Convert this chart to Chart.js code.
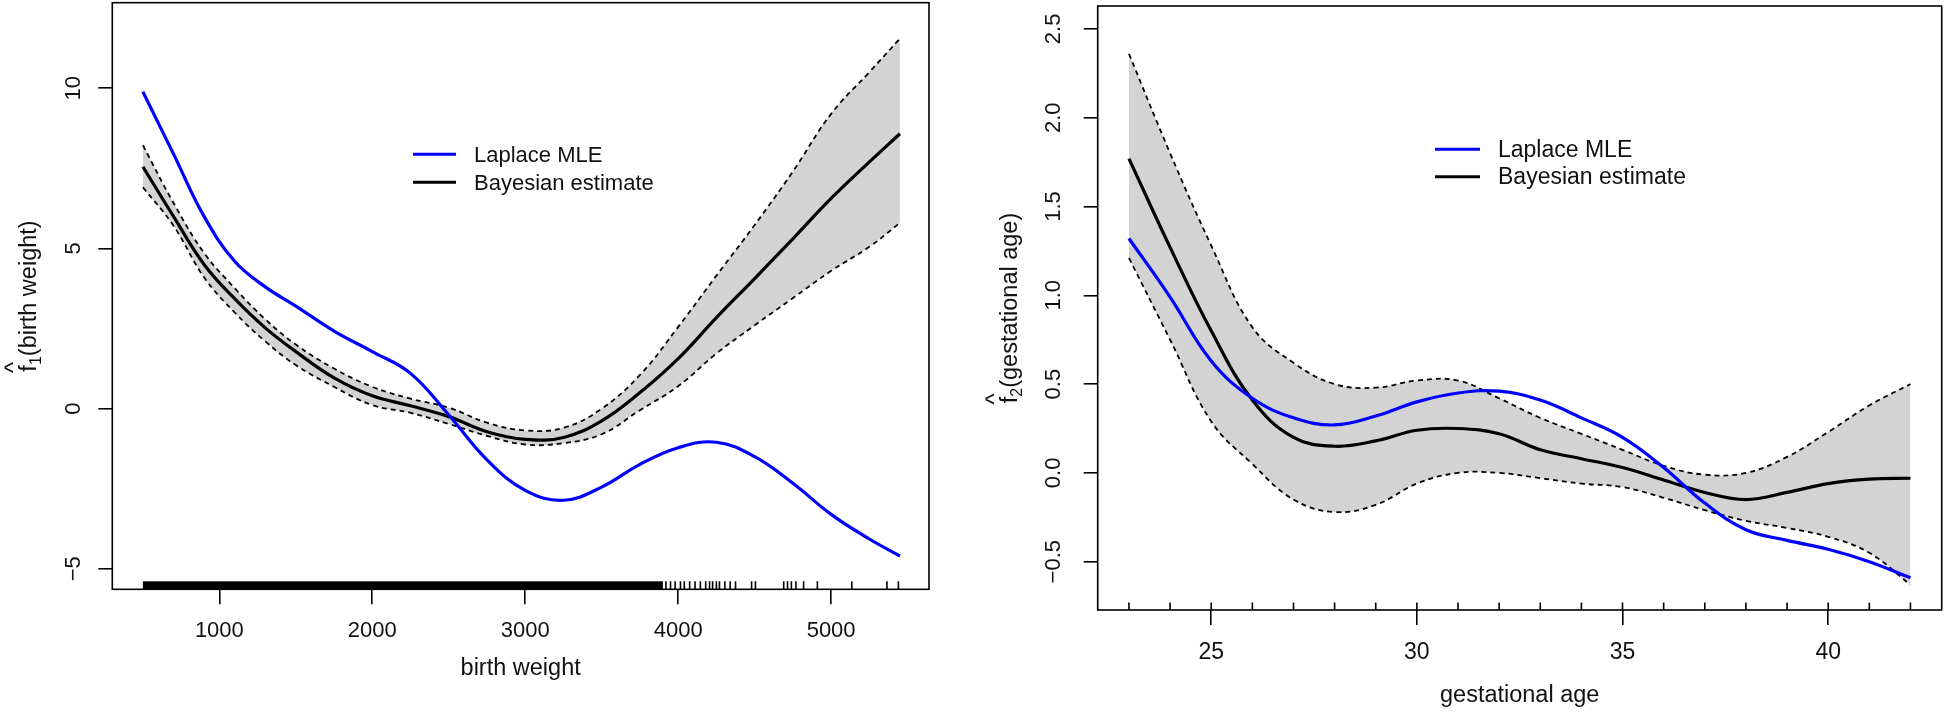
<!DOCTYPE html>
<html>
<head>
<meta charset="utf-8">
<script src="https://cdn.jsdelivr.net/npm/chart.js@4.4.1/dist/chart.umd.min.js"></script>
<style>
  html, body { margin: 0; padding: 0; background: #fff; }
  body { width: 1946px; height: 712px; position: relative; overflow: hidden; }
  canvas { position: absolute; top: 0; }
</style>
</head>
<body>
<canvas id="bw" width="960" height="712" style="left:0"></canvas>
<canvas id="ga" width="986" height="712" style="left:960px"></canvas>
<script>
// ---- left panel: birth weight ----
const bwGrid = [500, 700, 900, 1100, 1300, 1500, 1750, 2000, 2250, 2500, 2750, 3000, 3250, 3500, 3750, 4000, 4250, 4500, 4750, 5000, 5250, 5450];
const bwLaplace = [9.89, 7.95, 6.0, 4.6, 3.8, 3.2, 2.42, 1.78, 1.1, -0.2, -1.6, -2.55, -2.86, -2.45, -1.74, -1.22, -1.05, -1.5, -2.33, -3.3, -4.07, -4.6];
const bwBayes = [7.55, 6.0, 4.5, 3.43, 2.52, 1.78, 0.96, 0.40, 0.09, -0.25, -0.72, -0.96, -0.9, -0.38, 0.5, 1.56, 2.84, 4.06, 5.3, 6.56, 7.7, 8.58];
const bwUpper = [8.22, 6.42, 4.86, 3.76, 2.79, 2.0, 1.25, 0.68, 0.31, 0.03, -0.44, -0.68, -0.6, 0.0, 1.05, 2.55, 4.15, 5.73, 7.4, 9.2, 10.5, 11.55];
const bwLower = [6.91, 5.71, 4.1, 3.0, 2.1, 1.36, 0.68, 0.11, -0.13, -0.48, -0.85, -1.12, -1.08, -0.8, -0.05, 0.7, 1.72, 2.6, 3.45, 4.3, 5.05, 5.8];
const bwXTicks = [1000, 2000, 3000, 4000, 5000];
const bwYTicks = [-5, 0, 5, 10];
// rug: solid block of observations, then single ones
const bwRugDense = [500, 3900];
const bwRug = [3920, 3950, 3980, 4015, 4040, 4075, 4110, 4145, 4180, 4205, 4225, 4250, 4270, 4305, 4340, 4375, 4480, 4505, 4690, 4715, 4740, 4770, 4820, 4910, 5135, 5365, 5440];

// ---- right panel: gestational age ----
const gaGrid = [23, 24, 25, 26, 27, 28, 29, 30, 31, 32, 33, 34, 35, 36, 37, 38, 39, 40, 41, 42];
const gaLaplace = [1.32, 0.99, 0.63, 0.42, 0.31, 0.27, 0.32, 0.40, 0.45, 0.46, 0.41, 0.31, 0.20, 0.03, -0.17, -0.32, -0.38, -0.43, -0.50, -0.59];
const gaBayes = [1.77, 1.27, 0.80, 0.41, 0.20, 0.15, 0.18, 0.24, 0.25, 0.22, 0.13, 0.08, 0.03, -0.04, -0.11, -0.15, -0.11, -0.06, -0.035, -0.03];
const gaUpper = [2.36, 1.80, 1.28, 0.82, 0.62, 0.50, 0.48, 0.52, 0.52, 0.42, 0.31, 0.22, 0.13, 0.04, -0.01, 0.0, 0.09, 0.23, 0.38, 0.50];
const gaLower = [1.21, 0.75, 0.29, 0.05, -0.15, -0.22, -0.18, -0.06, 0.0, 0.0, -0.03, -0.06, -0.08, -0.14, -0.21, -0.27, -0.31, -0.36, -0.45, -0.63];
const gaXTicks = [25, 30, 35, 40];
const gaYTicks = [-0.5, 0.0, 0.5, 1.0, 1.5, 2.0, 2.5];
const gaRug = [23, 24, 25, 26, 27, 28, 29, 30, 31, 32, 33, 34, 35, 36, 37, 38, 39, 40, 41, 42];

const FONT = '"Liberation Sans", Arial, Helvetica, sans-serif';
const pts = (xs, ys) => xs.map((x, i) => ({ x: x, y: ys[i] }));
const minus = s => String(s).replace('-', '\u2212');

// frame, rug, rotated y labels, axis titles and legend, R style
const rDecor = {
  id: 'rDecor',
  afterDraw(chart, args, o) {
    const ctx = chart.ctx, a = chart.chartArea;
    const xs = chart.scales.x, ys = chart.scales.y;
    ctx.save();
    ctx.strokeStyle = '#000';
    ctx.fillStyle = '#000';
    ctx.lineWidth = 1.6;
    ctx.strokeRect(a.left, a.top, a.right - a.left, a.bottom - a.top);

    // rug
    if (o.rugDense) {
      const x0 = xs.getPixelForValue(o.rugDense[0]);
      const x1 = xs.getPixelForValue(o.rugDense[1]);
      ctx.fillRect(x0, a.bottom - o.rugLen, x1 - x0, o.rugLen);
    }
    ctx.lineWidth = 1.6;
    ctx.beginPath();
    o.rug.forEach(v => {
      const p = xs.getPixelForValue(v);
      ctx.moveTo(p, a.bottom);
      ctx.lineTo(p, a.bottom - o.rugLen);
    });
    ctx.stroke();

    ctx.fillStyle = '#111';
    // y tick labels, parallel to the axis
    ctx.font = o.fontSize + 'px ' + FONT;
    ctx.textAlign = 'center';
    ctx.textBaseline = 'alphabetic';
    ys.ticks.forEach(t => {
      const p = ys.getPixelForValue(t.value);
      ctx.save();
      ctx.translate(o.yLabelX, p);
      ctx.rotate(-Math.PI / 2);
      ctx.fillText(minus(o.yFormat(t.value)), 0, 0);
      ctx.restore();
    });

    // y title: hat f, subscript, rest
    const big = o.titleFont + 'px ' + FONT, small = Math.round(o.titleFont * 0.7) + 'px ' + FONT;
    ctx.font = big;
    const wf = ctx.measureText('f').width, wr = ctx.measureText(o.yTitle[2]).width;
    ctx.font = small;
    const ws = ctx.measureText(o.yTitle[1]).width;
    const total = wf + ws + wr;
    ctx.save();
    ctx.translate(o.yTitleX, (a.top + a.bottom) / 2);
    ctx.rotate(-Math.PI / 2);
    ctx.textAlign = 'left';
    let x = -total / 2;
    ctx.font = big;
    ctx.fillText('f', x, 0);
    ctx.textAlign = 'center';
    ctx.fillText('^', x + wf / 2 + 1, -15);
    ctx.textAlign = 'left';
    x += wf;
    ctx.font = small;
    ctx.fillText(o.yTitle[1], x, 5);
    x += ws;
    ctx.font = big;
    ctx.fillText(o.yTitle[2], x, 0);
    ctx.restore();

    // x title
    ctx.font = o.titleFont + 'px ' + FONT;
    ctx.textAlign = 'center';
    ctx.fillText(o.xTitle, (a.left + a.right) / 2, o.xTitleY);

    // legend
    ctx.textAlign = 'left';
    ctx.font = o.legendFont + 'px ' + FONT;
    chart.data.datasets.slice(0, 2).forEach((d, i) => {
      const ly = o.legend.y[i];
      ctx.strokeStyle = d.borderColor;
      ctx.lineWidth = 3;
      ctx.beginPath();
      ctx.moveTo(o.legend.x0, ly);
      ctx.lineTo(o.legend.x1, ly);
      ctx.stroke();
      ctx.fillText(d.label, o.legend.tx, ly + o.legend.dy);
    });
    ctx.restore();
  }
};

function makeChart(id, cfg) {
  const lineSets = [
    { label: 'Laplace MLE', data: pts(cfg.grid, cfg.laplace), borderColor: '#0000ff', borderWidth: 3.2 },
    { label: 'Bayesian estimate', data: pts(cfg.grid, cfg.bayes), borderColor: '#000000', borderWidth: 3.2 },
    { label: 'upper', data: pts(cfg.grid, cfg.upper), borderColor: '#000000', borderWidth: 1.8, borderDash: [5, 4] },
    { label: 'lower', data: pts(cfg.grid, cfg.lower), borderColor: '#000000', borderWidth: 1.8, borderDash: [5, 4],
      fill: '-1', backgroundColor: '#d3d3d3' }
  ];
  return new Chart(document.getElementById(id), {
    type: 'line',
    data: { datasets: lineSets },
    options: {
      responsive: false,
      animation: false,
      events: [],
      elements: {
        point: { radius: 0 },
        line: { tension: 0.4, fill: false }
      },
      layout: { padding: { left: 0, top: cfg.area.top, right: cfg.w - cfg.area.right, bottom: 0 } },
      scales: {
        x: {
          type: 'linear', min: cfg.xMin, max: cfg.xMax,
          afterBuildTicks: s => { s.ticks = cfg.xTicks.map(v => ({ value: v })); },
          afterFit: s => { s.height = cfg.h - cfg.area.bottom; },
          border: { display: false },
          grid: { drawOnChartArea: false, drawTicks: true, tickLength: 15, color: '#000', lineWidth: 1.6 },
          ticks: {
            autoSkip: false, maxRotation: 0, padding: cfg.xPad, color: '#111',
            font: { family: FONT, size: cfg.tickFont },
            callback: v => String(v)
          }
        },
        y: {
          type: 'linear', min: cfg.yMin, max: cfg.yMax,
          afterBuildTicks: s => { s.ticks = cfg.yTicks.map(v => ({ value: v })); },
          afterFit: s => { s.width = cfg.area.left; },
          border: { display: false },
          grid: { drawOnChartArea: false, drawTicks: true, tickLength: 14, color: '#000', lineWidth: 1.6 },
          ticks: { display: false }
        }
      },
      plugins: {
        legend: { display: false },
        tooltip: { enabled: false },
        rDecor: cfg.decor
      }
    },
    plugins: [rDecor]
  });
}

makeChart('bw', {
  w: 960, h: 712,
  area: { left: 112.3, top: 2.7, right: 929, bottom: 589.3 },
  grid: bwGrid, laplace: bwLaplace, bayes: bwBayes, upper: bwUpper, lower: bwLower,
  xMin: 300, xMax: 5640, yMin: -5.64, yMax: 12.67,
  xTicks: bwXTicks, yTicks: bwYTicks, tickFont: 22, xPad: 13,
  decor: {
    fontSize: 22, titleFont: 23.5, legendFont: 22,
    rug: bwRug, rugDense: bwRugDense, rugLen: 8,
    yLabelX: 80, yFormat: v => String(v),
    yTitleX: 36, yTitle: ['f', '1', '(birth weight)'],
    xTitle: 'birth weight', xTitleY: 675,
    legend: { x0: 413, x1: 456, tx: 474, y: [154.3, 182.3], dy: 8 }
  }
});

makeChart('ga', {
  w: 986, h: 712,
  area: { left: 137.7, top: 6, right: 981.7, bottom: 610 },
  grid: gaGrid, laplace: gaLaplace, bayes: gaBayes, upper: gaUpper, lower: gaLower,
  xMin: 22.24, xMax: 42.76, yMin: -0.772, yMax: 2.629,
  xTicks: gaXTicks, yTicks: gaYTicks, tickFont: 23, xPad: 14,
  decor: {
    fontSize: 22, titleFont: 23.5, legendFont: 23,
    rug: gaRug, rugLen: 7.5,
    yLabelX: 100, yFormat: v => v.toFixed(1),
    yTitleX: 57, yTitle: ['f', '2', '(gestational age)'],
    xTitle: 'gestational age', xTitleY: 702,
    legend: { x0: 475, x1: 520, tx: 538, y: [149.3, 176.7], dy: 7.5 }
  }
});
</script>
</body>
</html>
